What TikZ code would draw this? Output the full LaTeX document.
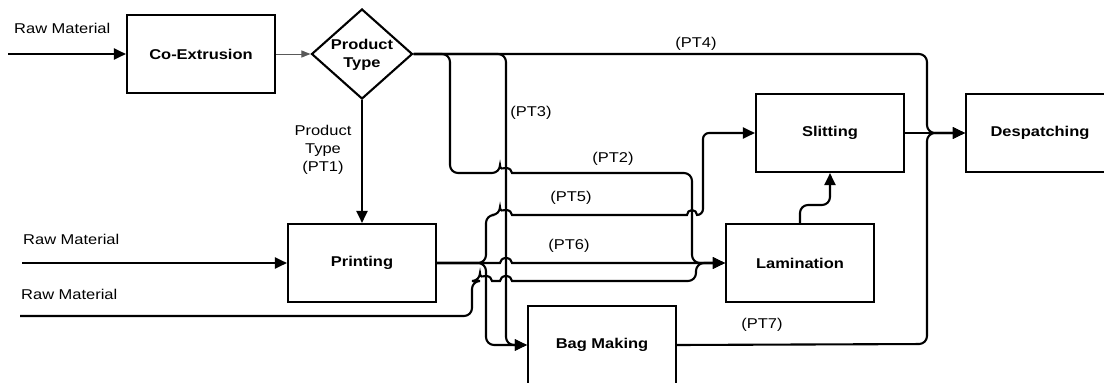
\documentclass[tikz,border=0pt]{standalone}
\usepackage{fontspec}
\setmainfont{Liberation Sans}[FakeStretch=1.16]
\usetikzlibrary{shapes.geometric,arrows.meta}
\newcommand\myfs{\fontsize{14.2}{18}\selectfont}
\begin{document}
\begin{tikzpicture}[x=1pt,y=1pt,
  box/.style={draw, line width=2.1pt, minimum width=148pt, minimum height=78pt, inner sep=0pt, font=\bfseries\myfs},
  ln/.style={line width=2.1pt},
  arr/.style={ln, -{Triangle[length=12pt,width=11pt]}},
  thinarr/.style={line width=1pt, draw=black!65, -{Triangle[length=9pt,width=7pt]}},
  lbl/.style={font=\myfs, inner sep=0pt},
]
\useasboundingbox (0,0) rectangle (1104,-383);
\clip (0,0) rectangle (1104,-383);

% nodes
\node[box] (coex) at (201,-54) {Co-Extrusion};
\node[draw, diamond, line width=2.1pt, minimum width=101pt, minimum height=90pt, inner sep=0pt] (ptype) at (362,-54) {};
\node[lbl, font=\bfseries\myfs, align=center] (ptypetxt) at (362,-55) {Product\\Type};
\node[box] (print) at (362,-263) {Printing};
\node[box] (lam) at (800,-263) {Lamination};
\node[box] (slit) at (830,-133) {Slitting};
\node[box] (desp) at (1040,-133) {Despatching};
\node[box] (bag) at (602,-345) {Bag Making};

% free ends
\coordinate (rm1) at (8,-54);
\coordinate (rm2) at (22,-263);
\coordinate (rm3) at (20,-316);

% labels
\node[lbl, anchor=base west] (lrm1) at (14,-33) {Raw Material};
\node[lbl, anchor=base west] (lrm2) at (23,-244) {Raw Material};
\node[lbl, anchor=base west] (lrm3) at (21,-299) {Raw Material};
\node[lbl, align=center] (lpt1) at (323,-150) {Product\\Type\\(PT1)};
\node[lbl, anchor=base] (lpt4) at (696,-47) {(PT4)};
\node[lbl, anchor=base] (lpt3) at (531,-116) {(PT3)};
\node[lbl, anchor=base] (lpt2) at (613,-162) {(PT2)};
\node[lbl, anchor=base] (lpt5) at (571,-201) {(PT5)};
\node[lbl, anchor=base] (lpt6) at (569,-249) {(PT6)};
\node[lbl, anchor=base] (lpt7) at (762,-328) {(PT7)};

% connectors
\draw[arr] (rm1) -- (coex.west);
\draw[thinarr] (coex.east) -- (ptype.west);
\draw[arr] (ptype.south) -- (print.north);
\draw[arr] (rm2) -- (print.west);

% PT4
\draw[arr, rounded corners=8pt] (ptype.east) -- (927,-54) -- (927,-133) -- (desp.west);
% Slitting -> Despatching
\draw[arr] (slit.east) -- (desp.west);
% PT7
\draw[arr, rounded corners=8pt] (bag.east) -- (927,-344) -- (927,-133) -- (desp.west);
% PT3
\draw[arr, rounded corners=8pt] (ptype.east) -- (506,-54) -- (506,-345) -- (bag.west);
% PT2
\draw[arr] (ptype.east) [rounded corners=8pt] -- (450,-54) -- (450,-173) -- (500,-173) [sharp corners]
  arc[start angle=180,end angle=0,x radius=6,y radius=5]
  [rounded corners=8pt] -- (692,-173) -- (692,-263) -- (lam.west);
% PT6
\draw[arr] (print.east) -- (500,-263) arc[start angle=180,end angle=0,x radius=6,y radius=5] -- (lam.west);
% PT5
\draw[arr] (print.east) [rounded corners=8pt] -- (486,-263) -- (486,-215) -- (500,-215) [sharp corners]
  arc[start angle=180,end angle=0,x radius=6,y radius=5] -- (687,-215)
  arc[start angle=180,end angle=0,x radius=5,y radius=5]
  [rounded corners=6pt] -- (703,-215) -- (703,-133) -- (slit.west);
% Printing -> Bag Making
\draw[arr, rounded corners=8pt] (print.east) -- (486,-263) -- (486,-345) -- (bag.west);
% Raw material 3 -> Lamination
\draw[arr] (rm3) [rounded corners=8pt] -- (472,-316) -- (472,-281) -- (480,-281) [sharp corners]
  arc[start angle=180,end angle=0,x radius=6,y radius=5] -- (500,-281)
  arc[start angle=180,end angle=0,x radius=6,y radius=5]
  [rounded corners=8pt] -- (696,-281) -- (696,-263) -- (lam.west);
% Lamination -> Slitting
\draw[arr, rounded corners=8pt] (lam.north) -- (800,-205) -- (830,-205) -- (slit.south);
\end{tikzpicture}
\end{document}
